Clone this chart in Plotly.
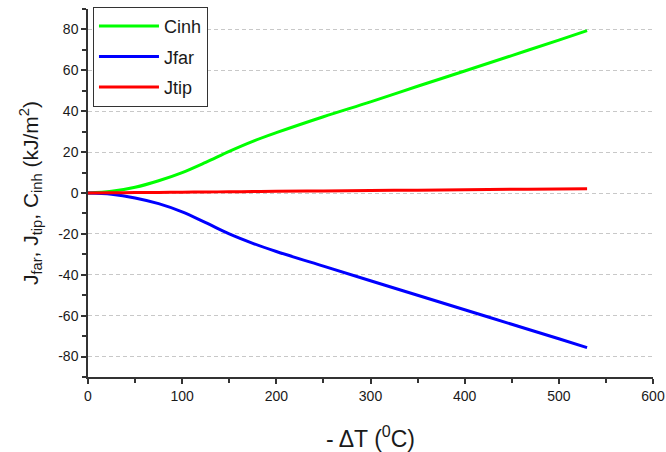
import plotly.graph_objects as go

# Data
dT = [0, 25, 50, 75, 100, 125, 150, 175, 200, 250, 300, 350, 400, 450, 500, 530]
cinh = [0, 0.8, 2.8, 6.0, 10.0, 15.0, 20.4, 25.3, 29.5, 37.3, 44.6, 52.2, 59.7, 67.2, 74.8, 79.4]
jfar = [0, -0.6, -2.4, -5.2, -9.2, -14.5, -20.0, -24.6, -28.6, -35.8, -42.9, -50.0, -57.1, -64.2, -71.3, -75.6]
jtip = [0, 0.1, 0.2, 0.3, 0.4, 0.5, 0.6, 0.7, 0.8, 1.0, 1.2, 1.4, 1.6, 1.8, 2.0, 2.1]

y_ticks = [-80, -60, -40, -20, 0, 20, 40, 60, 80]
y_ticktext = ["-80", "-60", "-40", "-20", "0", "20", "40", "60", "80"]
x_ticks = [0, 100, 200, 300, 400, 500, 600]

FONT = "Liberation Sans, Arial, sans-serif"

fig = go.Figure()
fig.add_trace(go.Scatter(x=dT, y=cinh, mode="lines", name="Cinh", legendgroup="g1",
                         line=dict(color="#00FF00", width=3, shape="spline")))
fig.add_trace(go.Scatter(x=dT, y=jfar, mode="lines", name="Jfar", legendgroup="g2",
                         line=dict(color="#0000FF", width=3, shape="spline")))
fig.add_trace(go.Scatter(x=dT, y=jtip, mode="lines", name="Jtip", legendgroup="g3",
                         line=dict(color="#FF0000", width=3, shape="spline")))

axis_common = dict(
    showline=True, linecolor="#333333", linewidth=1.5,
    ticks="outside", ticklen=5, tickwidth=1.5, tickcolor="#333333",
    tickfont=dict(family=FONT, size=14, color="#1a1a1a"),
    zeroline=False, mirror=False, automargin=False,
)

fig.update_layout(
    width=666, height=452,
    margin=dict(l=88, r=13, t=8, b=75),
    paper_bgcolor="white", plot_bgcolor="white",
    font=dict(family=FONT, color="#1a1a1a"),
    showlegend=True,
    legend=dict(x=0.0088, y=1.003, xanchor="left", yanchor="top",
                bordercolor="#333333", borderwidth=1, bgcolor="white",
                font=dict(family=FONT, size=18, color="#1a1a1a"),
                tracegroupgap=4, itemwidth=60, entrywidth=110, entrywidthmode="pixels"),
    xaxis=dict(range=[0, 600], tickvals=x_ticks, showgrid=False,
               minor=dict(dtick=50, ticks="outside", ticklen=4, tickwidth=1.5, tickcolor="#333333", showgrid=False),
               title=dict(text="- ΔT (<sup>0</sup>C)", font=dict(family=FONT, size=23), standoff=28),
               **axis_common),
    yaxis=dict(range=[-90, 90], tickvals=y_ticks, ticktext=y_ticktext,
               showgrid=True, gridcolor="#C8C8C8", gridwidth=1, griddash="4px,3px",
               minor=dict(dtick=10, ticks="outside", ticklen=4, tickwidth=1.5, tickcolor="#333333", showgrid=False),
               title=dict(text="J<sub>far</sub>, J<sub>tip</sub>, C<sub>inh</sub> (kJ/m<sup>2</sup>)",
                          font=dict(family=FONT, size=21), standoff=14),
               **axis_common),
)

fig.write_html("out.html", config={"displayModeBar": False},
               post_script="document.body.style.margin='0';document.body.style.overflow='hidden';")
